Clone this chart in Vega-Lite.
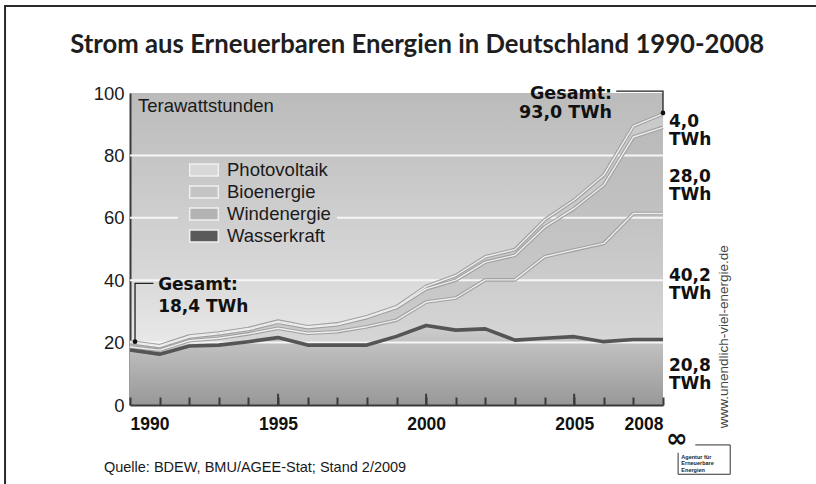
{
  "$schema": "https://vega.github.io/schema/vega-lite/v6.json",
  "width": 533,
  "height": 312,
  "autosize": {"type": "none"},
  "padding": {"left": 130, "top": 93, "right": 153, "bottom": 79},
  "background": "white",
  "view": {"stroke": null, "fill": {"gradient": "linear", "x1": 0, "y1": 0, "x2": 0, "y2": 1, "stops": [{"offset": 0, "color": "#bbbbbb"}, {"offset": 0.55, "color": "#d6d6d6"}, {"offset": 0.8, "color": "#e8e8e8"}, {"offset": 1, "color": "#dcdcdc"}]}},
  "config": {
    "axisY": {"grid": false, "ticks": false, "domainColor": "#3a3a3a", "domainWidth": 2, "labelFont": "Liberation Sans", "labelFontSize": 18.5, "labelColor": "#1a1a1a", "labelPadding": 6, "labelOverlap": false, "zindex": 1}
  },
  "datasets": {
    "energy": [
      {"year": 1990, "series": "Wasserkraft", "ord": 1, "value": 17.6},
      {"year": 1991, "series": "Wasserkraft", "ord": 1, "value": 16.3},
      {"year": 1992, "series": "Wasserkraft", "ord": 1, "value": 18.9},
      {"year": 1993, "series": "Wasserkraft", "ord": 1, "value": 19.2},
      {"year": 1994, "series": "Wasserkraft", "ord": 1, "value": 20.3},
      {"year": 1995, "series": "Wasserkraft", "ord": 1, "value": 21.6},
      {"year": 1996, "series": "Wasserkraft", "ord": 1, "value": 19.2},
      {"year": 1997, "series": "Wasserkraft", "ord": 1, "value": 19.2},
      {"year": 1998, "series": "Wasserkraft", "ord": 1, "value": 19.2},
      {"year": 1999, "series": "Wasserkraft", "ord": 1, "value": 22.0},
      {"year": 2000, "series": "Wasserkraft", "ord": 1, "value": 25.5},
      {"year": 2001, "series": "Wasserkraft", "ord": 1, "value": 24.0},
      {"year": 2002, "series": "Wasserkraft", "ord": 1, "value": 24.4},
      {"year": 2003, "series": "Wasserkraft", "ord": 1, "value": 20.8},
      {"year": 2004, "series": "Wasserkraft", "ord": 1, "value": 21.4},
      {"year": 2005, "series": "Wasserkraft", "ord": 1, "value": 21.9},
      {"year": 2006, "series": "Wasserkraft", "ord": 1, "value": 20.3},
      {"year": 2007, "series": "Wasserkraft", "ord": 1, "value": 21.0},
      {"year": 2008, "series": "Wasserkraft", "ord": 1, "value": 21.0},
      {"year": 1990, "series": "Windenergie", "ord": 2, "value": 1.0},
      {"year": 1991, "series": "Windenergie", "ord": 2, "value": 1.3},
      {"year": 1992, "series": "Windenergie", "ord": 2, "value": 1.7},
      {"year": 1993, "series": "Windenergie", "ord": 2, "value": 2.2},
      {"year": 1994, "series": "Windenergie", "ord": 2, "value": 2.5},
      {"year": 1995, "series": "Windenergie", "ord": 2, "value": 3.0},
      {"year": 1996, "series": "Windenergie", "ord": 2, "value": 3.8},
      {"year": 1997, "series": "Windenergie", "ord": 2, "value": 4.3},
      {"year": 1998, "series": "Windenergie", "ord": 2, "value": 5.9},
      {"year": 1999, "series": "Windenergie", "ord": 2, "value": 5.2},
      {"year": 2000, "series": "Windenergie", "ord": 2, "value": 7.5},
      {"year": 2001, "series": "Windenergie", "ord": 2, "value": 10.3},
      {"year": 2002, "series": "Windenergie", "ord": 2, "value": 15.7},
      {"year": 2003, "series": "Windenergie", "ord": 2, "value": 19.3},
      {"year": 2004, "series": "Windenergie", "ord": 2, "value": 26.1},
      {"year": 2005, "series": "Windenergie", "ord": 2, "value": 27.8},
      {"year": 2006, "series": "Windenergie", "ord": 2, "value": 31.5},
      {"year": 2007, "series": "Windenergie", "ord": 2, "value": 40.4},
      {"year": 2008, "series": "Windenergie", "ord": 2, "value": 40.4},
      {"year": 1990, "series": "Bioenergie", "ord": 3, "value": 1.4},
      {"year": 1991, "series": "Bioenergie", "ord": 3, "value": 1.1},
      {"year": 1992, "series": "Bioenergie", "ord": 3, "value": 1.2},
      {"year": 1993, "series": "Bioenergie", "ord": 3, "value": 1.4},
      {"year": 1994, "series": "Bioenergie", "ord": 3, "value": 1.4},
      {"year": 1995, "series": "Bioenergie", "ord": 3, "value": 1.9},
      {"year": 1996, "series": "Bioenergie", "ord": 3, "value": 1.8},
      {"year": 1997, "series": "Bioenergie", "ord": 3, "value": 2.2},
      {"year": 1998, "series": "Bioenergie", "ord": 3, "value": 2.9},
      {"year": 1999, "series": "Bioenergie", "ord": 3, "value": 4.0},
      {"year": 2000, "series": "Bioenergie", "ord": 3, "value": 4.2},
      {"year": 2001, "series": "Bioenergie", "ord": 3, "value": 5.7},
      {"year": 2002, "series": "Bioenergie", "ord": 3, "value": 5.7},
      {"year": 2003, "series": "Bioenergie", "ord": 3, "value": 7.9},
      {"year": 2004, "series": "Bioenergie", "ord": 3, "value": 9.5},
      {"year": 2005, "series": "Bioenergie", "ord": 3, "value": 13.3},
      {"year": 2006, "series": "Bioenergie", "ord": 3, "value": 18.7},
      {"year": 2007, "series": "Bioenergie", "ord": 3, "value": 24.5},
      {"year": 2008, "series": "Bioenergie", "ord": 3, "value": 27.6},
      {"year": 1990, "series": "Photovoltaik", "ord": 4, "value": 0.3},
      {"year": 1991, "series": "Photovoltaik", "ord": 4, "value": 0.3},
      {"year": 1992, "series": "Photovoltaik", "ord": 4, "value": 0.3},
      {"year": 1993, "series": "Photovoltaik", "ord": 4, "value": 0.3},
      {"year": 1994, "series": "Photovoltaik", "ord": 4, "value": 0.3},
      {"year": 1995, "series": "Photovoltaik", "ord": 4, "value": 0.4},
      {"year": 1996, "series": "Photovoltaik", "ord": 4, "value": 0.3},
      {"year": 1997, "series": "Photovoltaik", "ord": 4, "value": 0.3},
      {"year": 1998, "series": "Photovoltaik", "ord": 4, "value": 0.3},
      {"year": 1999, "series": "Photovoltaik", "ord": 4, "value": 0.3},
      {"year": 2000, "series": "Photovoltaik", "ord": 4, "value": 0.8},
      {"year": 2001, "series": "Photovoltaik", "ord": 4, "value": 1.5},
      {"year": 2002, "series": "Photovoltaik", "ord": 4, "value": 1.7},
      {"year": 2003, "series": "Photovoltaik", "ord": 4, "value": 1.8},
      {"year": 2004, "series": "Photovoltaik", "ord": 4, "value": 2.3},
      {"year": 2005, "series": "Photovoltaik", "ord": 4, "value": 2.7},
      {"year": 2006, "series": "Photovoltaik", "ord": 4, "value": 3.2},
      {"year": 2007, "series": "Photovoltaik", "ord": 4, "value": 3.5},
      {"year": 2008, "series": "Photovoltaik", "ord": 4, "value": 4.3}
    ]
  },
  "encoding": {
    "x": {"field": "year", "type": "quantitative", "title": null,
      "scale": {"domain": [1990, 2008], "nice": false, "zero": false},
      "axis": {"values": [1990, 1991, 1992, 1993, 1994, 1995, 1996, 1997, 1998, 1999, 2000, 2001, 2002, 2003, 2004, 2005, 2006, 2007, 2008],
        "format": "d", "labelExpr": "(datum.value % 5 == 0 || datum.value == 2008) ? datum.label : ''",
        "grid": false, "domainColor": "#3a3a3a", "domainWidth": 2, "tickColor": "#3a3a3a", "tickWidth": 2, "tickSize": -8,
        "labelFlush": true, "labelOverlap": false, "labelFont": "Liberation Sans", "labelFontSize": 17.5, "labelFontWeight": "bold",
        "labelColor": "#111111", "labelPadding": 18, "zindex": 1}}
  },
  "layer": [
    {
      "data": {"name": "energy"},
      "transform": [{"stack": "value", "groupby": ["year"], "sort": [{"field": "ord"}], "as": ["v0", "v1"]}, {"filter": "datum.ord == 1"}],
      "mark": {"type": "area", "fill": {"gradient": "linear", "x1": 0, "y1": 0, "x2": 0, "y2": 1, "stops": [{"offset": 0, "color": "#cdcdcd"}, {"offset": 1, "color": "#989898"}]}},
      "encoding": {
        "y": {"field": "v1", "type": "quantitative", "title": null, "scale": {"domain": [0, 100], "nice": false},
          "axis": {"values": [0, 20, 40, 60, 80, 100], "labelOverlap": false}},
        "y2": {"field": "v0"}
      }
    },
    {
      "data": {"name": "energy"},
      "transform": [{"stack": "value", "groupby": ["year"], "sort": [{"field": "ord"}], "as": ["v0", "v1"]}, {"filter": "datum.ord == 2"}],
      "mark": {"type": "area", "fill": {"gradient": "linear", "x1": 0, "y1": 0, "x2": 0, "y2": 1, "stops": [{"offset": 0, "color": "#c2c2c2"}, {"offset": 1, "color": "#d8d8d8"}]}},
      "encoding": {
        "y": {"field": "v1", "type": "quantitative", "title": null},
        "y2": {"field": "v0"}
      }
    },
    {
      "data": {"name": "energy"},
      "transform": [{"stack": "value", "groupby": ["year"], "sort": [{"field": "ord"}], "as": ["v0", "v1"]}, {"filter": "datum.ord == 3"}],
      "mark": {"type": "area", "fill": {"gradient": "linear", "x1": 0, "y1": 0, "x2": 0, "y2": 1, "stops": [{"offset": 0, "color": "#bababa"}, {"offset": 1, "color": "#cdcdcd"}]}},
      "encoding": {
        "y": {"field": "v1", "type": "quantitative", "title": null},
        "y2": {"field": "v0"}
      }
    },
    {
      "data": {"name": "energy"},
      "transform": [{"stack": "value", "groupby": ["year"], "sort": [{"field": "ord"}], "as": ["v0", "v1"]}, {"filter": "datum.ord == 4"}],
      "mark": {"type": "area", "fill": "#cacaca"},
      "encoding": {
        "y": {"field": "v1", "type": "quantitative", "title": null},
        "y2": {"field": "v0"}
      }
    },
    {
      "data": {"values": [
        {"y": 20, "year": 1990, "to": 2008},
        {"y": 40, "year": 1990, "to": 2008},
        {"y": 60, "year": 1990, "to": 1991.62},
        {"y": 60, "year": 1996.99, "to": 2008},
        {"y": 80, "year": 1990, "to": 2008}
      ]},
      "mark": {"type": "rule", "color": "#f6f6f6", "strokeWidth": 2},
      "encoding": {
        "x2": {"field": "to"},
        "y": {"field": "y", "type": "quantitative", "title": null}
      }
    },
    {
      "data": {"name": "energy"},
      "transform": [{"stack": "value", "groupby": ["year"], "sort": [{"field": "ord"}], "as": ["v0", "v1"]}, {"filter": "datum.ord >= 2"}],
      "mark": {"type": "line", "stroke": "#a0a0a0", "strokeWidth": 3.6, "strokeJoin": "round"},
      "encoding": {
        "y": {"field": "v1", "type": "quantitative", "title": null},
        "detail": {"field": "series"}
      }
    },
    {
      "data": {"name": "energy"},
      "transform": [{"stack": "value", "groupby": ["year"], "sort": [{"field": "ord"}], "as": ["v0", "v1"]}, {"filter": "datum.ord >= 2"}],
      "mark": {"type": "line", "stroke": "#eeeeee", "strokeWidth": 1.4, "strokeJoin": "round"},
      "encoding": {
        "y": {"field": "v1", "type": "quantitative", "title": null},
        "detail": {"field": "series"}
      }
    },
    {
      "data": {"name": "energy"},
      "transform": [{"filter": "datum.ord == 1"}],
      "mark": {"type": "line", "stroke": "#555555", "strokeWidth": 3.6, "strokeJoin": "round"},
      "encoding": {
        "y": {"field": "value", "type": "quantitative", "title": null}
      }
    },
    {
      "data": {"values": [{"year": 1995}, {"year": 2000}, {"year": 2005}]},
      "mark": {"type": "rule", "color": "#3a3a3a", "strokeWidth": 2},
      "encoding": {
        "y": {"datum": 0, "type": "quantitative"},
        "y2": {"datum": 3.6}
      }
    },
    {
      "data": {"name": "energy"},
      "transform": [{"filter": "datum.year > 3000"}],
      "mark": {"type": "point", "filled": true, "opacity": 1},
      "encoding": {
        "y": {"field": "value", "type": "quantitative", "title": null},
        "color": {"field": "series", "type": "nominal",
          "scale": {"domain": ["Photovoltaik", "Bioenergie", "Windenergie", "Wasserkraft"], "range": ["#d8d8d8", "#c4c4c4", "#b3b3b3", "#5a5a5a"]},
          "legend": {"orient": "none", "legendX": 48, "legendY": 61, "title": null, "direction": "vertical",
            "symbolType": "M-1.3,-0.55L1.3,-0.55L1.3,0.55L-1.3,0.55Z", "symbolSize": 484,
            "symbolStrokeColor": "#f0f0f0", "symbolStrokeWidth": 1.5, "symbolOpacity": 1,
            "symbolOffset": 10, "labelOffset": 11, "labelFont": "Liberation Sans", "labelFontSize": 18.5,
            "labelColor": "#1a1a1a", "rowPadding": 0, "padding": 4}}
      }
    },
    {
      "data": {"values": [
        {"year": 1990.17, "y": 20.3, "o": 1, "g": "a"},
        {"year": 1990.17, "y": 39.0, "o": 2, "g": "a"},
        {"year": 1990.79, "y": 39.0, "o": 3, "g": "a"},
        {"year": 2008, "y": 93.6, "o": 1, "g": "b"},
        {"year": 2008, "y": 100.6, "o": 2, "g": "b"},
        {"year": 2006.42, "y": 100.6, "o": 3, "g": "b"}
      ]},
      "mark": {"type": "line", "stroke": "#222222", "strokeWidth": 1.3},
      "encoding": {
        "y": {"field": "y", "type": "quantitative", "title": null},
        "detail": {"field": "g"},
        "order": {"field": "o"}
      }
    },
    {
      "data": {"values": [{"year": 1990.17, "y": 20.3}, {"year": 2008, "y": 93.6}]},
      "mark": {"type": "point", "filled": true, "color": "#111111", "opacity": 1, "size": 22},
      "encoding": {
        "y": {"field": "y", "type": "quantitative", "title": null}
      }
    },
    {
      "data": {"values": [
        {"year": 1990.95, "y": 38.5, "t": "Gesamt:"},
        {"year": 1990.95, "y": 31.5, "t": "18,4 TWh"},
        {"year": 2008.2, "y": 90.8, "t": "4,0"},
        {"year": 2008.2, "y": 85.0, "t": "TWh"},
        {"year": 2008.2, "y": 73.2, "t": "28,0"},
        {"year": 2008.2, "y": 67.4, "t": "TWh"},
        {"year": 2008.2, "y": 41.4, "t": "40,2"},
        {"year": 2008.2, "y": 35.6, "t": "TWh"},
        {"year": 2008.2, "y": 12.6, "t": "20,8"},
        {"year": 2008.2, "y": 6.8, "t": "TWh"}
      ]},
      "mark": {"type": "text", "align": "left", "baseline": "middle", "font": "DejaVu Sans", "fontWeight": "bold", "fontSize": 17, "color": "#111111"},
      "encoding": {
        "y": {"field": "y", "type": "quantitative", "title": null},
        "text": {"field": "t"}
      }
    },
    {
      "data": {"values": [
        {"year": 2006.28, "y": 99.7, "t": "Gesamt:"},
        {"year": 2006.28, "y": 93.6, "t": "93,0 TWh"}
      ]},
      "mark": {"type": "text", "align": "right", "baseline": "middle", "font": "DejaVu Sans", "fontWeight": "bold", "fontSize": 17.5, "color": "#111111"},
      "encoding": {
        "y": {"field": "y", "type": "quantitative", "title": null},
        "text": {"field": "t"}
      }
    },
    {
      "data": {"values": [{"year": 1990.27, "y": 95.8, "t": "Terawattstunden"}]},
      "mark": {"type": "text", "align": "left", "baseline": "middle", "font": "Liberation Sans", "fontSize": 18.5, "color": "#1a1a1a"},
      "encoding": {
        "y": {"field": "y", "type": "quantitative", "title": null},
        "text": {"field": "t"}
      }
    },
    {
      "data": {"values": [{"year": 1989.12, "y": -20.2, "t": "Quelle: BDEW, BMU/AGEE-Stat; Stand 2/2009"}]},
      "mark": {"type": "text", "align": "left", "baseline": "middle", "font": "Liberation Sans", "fontSize": 14.5, "color": "#1a1a1a"},
      "encoding": {
        "y": {"field": "y", "type": "quantitative", "title": null},
        "text": {"field": "t"}
      }
    },
    {
      "data": {"values": [{"year": 1999.7, "y": 112.8, "t": "Strom aus Erneuerbaren Energien in Deutschland 1990-2008"}]},
      "mark": {"type": "text", "align": "center", "baseline": "alphabetic", "font": "Lato", "fontWeight": "bold", "fontSize": 25.7, "color": "#1e1e1e"},
      "encoding": {
        "y": {"field": "y", "type": "quantitative", "title": null},
        "text": {"field": "t"}
      }
    },
    {
      "data": {"values": [{"year": 2010.06, "y": 21.9, "t": "www.unendlich-viel-energie.de"}]},
      "mark": {"type": "text", "align": "center", "baseline": "middle", "angle": 270, "font": "Liberation Sans", "fontSize": 13.5, "color": "#444444"},
      "encoding": {
        "y": {"field": "y", "type": "quantitative", "title": null},
        "text": {"field": "t"}
      }
    },
    {
      "data": {"values": [{"year": 2008.47, "y": -10.8, "t": "∞"}]},
      "mark": {"type": "text", "align": "center", "baseline": "middle", "font": "DejaVu Sans", "fontWeight": "bold", "fontSize": 26, "color": "#111111"},
      "encoding": {
        "y": {"field": "y", "type": "quantitative", "title": null},
        "text": {"field": "t"}
      }
    },
    {
      "data": {"values": [
        {"year": 2008.62, "y": -16.6, "t": "Agentur für"},
        {"year": 2008.62, "y": -18.7, "t": "Erneuerbare"},
        {"year": 2008.62, "y": -20.8, "t": "Energien"}
      ]},
      "mark": {"type": "text", "align": "left", "baseline": "middle", "font": "Liberation Sans", "fontWeight": "bold", "fontSize": 5.5, "color": "#222222"},
      "encoding": {
        "y": {"field": "y", "type": "quantitative", "title": null},
        "text": {"field": "t"}
      }
    },
    {
      "data": {"values": [
        {"year": 2009.09, "y": -12.8, "o": 1},
        {"year": 2010.27, "y": -12.8, "o": 2},
        {"year": 2010.27, "y": -22.2, "o": 3},
        {"year": 2008.51, "y": -22.2, "o": 4},
        {"year": 2008.51, "y": -15.3, "o": 5}
      ]},
      "mark": {"type": "line", "stroke": "#333333", "strokeWidth": 1},
      "encoding": {
        "y": {"field": "y", "type": "quantitative", "title": null},
        "order": {"field": "o"}
      }
    },
    {
      "data": {"values": [{"year": 1985.78, "x2": 2015, "y": 127.9, "y2": -40}]},
      "mark": {"type": "rect", "fill": "transparent", "stroke": "#2a2a2a", "strokeWidth": 2},
      "encoding": {
        "x2": {"field": "x2"},
        "y": {"field": "y", "type": "quantitative", "title": null},
        "y2": {"field": "y2"}
      }
    }
  ]
}
